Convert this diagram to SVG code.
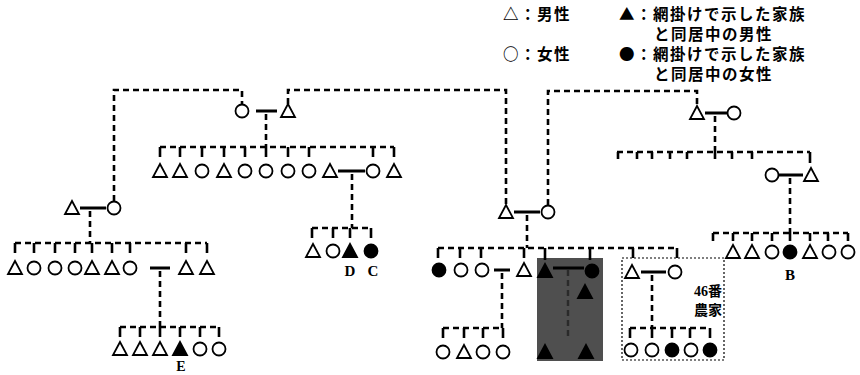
<svg xmlns="http://www.w3.org/2000/svg" width="860" height="375" viewBox="0 0 860 375">
<style>
.d{fill:none;stroke:#000;stroke-width:2.6;stroke-dasharray:6 4}
.t{fill:none;stroke:#000;stroke-width:2.6}
.c{fill:none;stroke:#000;stroke-width:3}
.o{fill:#fff;stroke:#000;stroke-width:1.8}
.k{fill:#000;stroke:#000;stroke-width:1.8}
.lg{font-family:"Noto Sans CJK JP","Noto Sans CJK SC",sans-serif;font-size:15.5px;font-weight:700;letter-spacing:1.5px}
.lb{font-family:"Liberation Serif",serif;font-size:15px;font-weight:700;text-anchor:middle}
.fm{font-family:"Liberation Serif","Noto Sans CJK JP",serif;font-size:14px;font-weight:700;text-anchor:end}
</style>
<defs>
<path id="tri" d="M0,-7L7,6H-7Z"/>
<circle id="cir" r="6.5"/>
</defs>
<rect width="860" height="375" fill="#fff"/>

<g id="legend" class="lg">
<text x="503" y="20">△：男性</text>
<text x="619" y="20">▲：網掛けで示した家族<tspan x="654" y="40">と同居中の男性</tspan></text>
<text x="503" y="60">○：女性</text>
<text x="619" y="60">●：網掛けで示した家族<tspan x="654" y="80">と同居中の女性</tspan></text>
</g>

<g id="household-box">
<rect id="shaded" x="537" y="258" width="66" height="103" fill="#4f4f4f"/>
<rect id="farm46" x="622" y="258" width="102" height="102" fill="none" stroke="#000" stroke-width="1.2" stroke-dasharray="2 2"/>
<text class="fm" x="722" y="296">46番</text>
<text class="fm" x="722" y="315">農家</text>
</g>

<g id="connectors">
<path class="d" d="M114,201V90H242V104"/>
<path class="d" d="M288,104V90H506V205"/>
<path class="d" d="M548,205V91H697V106"/>
<path class="d" d="M266,114V147M90,211V243M527,215V248M715,116V152M790,178V233M352,174V228M160,271V327M502,273V328M652,275V328"/>
<path class="d" d="M160,147H394M15,243H207M120,327H219M312,228H371M438,248H677M443,328H503M630,328H710M617,152H810M713,233H848"/>
<path class="t" d="M160,147v10M180,147v10M202,147v10M224,147v10M245,147v10M266,147v10M288,147v10M309,147v10M373,147v10M394,147v10"/>
<path class="t" d="M15,243v10M34,243v10M55,243v10M75,243v10M92,243v10M112,243v10M130,243v10M186,243v10M207,243v10"/>
<path class="t" d="M120,327v10M140,327v10M160,327v10M180,327v10M200,327v10M219,327v10"/>
<path class="t" d="M312,228v10M333,228v10M350,228v10M371,228v10"/>
<path class="t" d="M438,248v10M460,248v10M481,248v10M524,248v10M545,248v12M590,248v12M633,248v10M677,248v10"/>
<path class="t" d="M443,328v10M464,328v10M483,328v10M503,328v10"/>
<path class="t" d="M630,328v10M652,328v10M672,328v10M690,328v10M710,328v10"/>
<path class="t" d="M618,152v7M637,152v7M652,152v7M670,152v7M687,152v7M715,152v7M732,152v7M752,152v7M810,152v11"/>
<path class="t" d="M713,233v8M733,233v8M752,233v8M772,233v8M790,233v8M810,233v8M828,233v8M848,233v8"/>
<path class="c" d="M256,111H277M80,208H106M514,212H540M705,113H727M779,175H803M338,171H365M150,268H170M494,270H510M641,272H666M553,268H584"/>
<path d="M568,270V340" fill="none" stroke="#2a2a2a" stroke-width="2.4" stroke-dasharray="6 4"/>
</g>

<g id="gen1">
<g id="n-top-f"><use href="#cir" class="o" x="242" y="111"/></g>
<g id="n-top-m"><use href="#tri" class="o" x="288" y="111"/></g>
<g id="n-left-m"><use href="#tri" class="o" x="72" y="208"/></g>
<g id="n-left-f"><use href="#cir" class="o" x="114" y="208"/></g>
<g id="n-mid-m"><use href="#tri" class="o" x="506" y="212"/></g>
<g id="n-mid-f"><use href="#cir" class="o" x="548" y="212"/></g>
<g id="n-right-m"><use href="#tri" class="o" x="697" y="113"/></g>
<g id="n-right-f"><use href="#cir" class="o" x="734" y="113"/></g>
<g id="n-r2-f"><use href="#cir" class="o" x="772" y="175"/></g>
<g id="n-r2-m"><use href="#tri" class="o" x="811" y="175"/></g>
</g>

<g id="row-g1">
<g id="a1"><use href="#tri" class="o" x="160" y="171"/></g>
<g id="a2"><use href="#tri" class="o" x="180" y="171"/></g>
<g id="a3"><use href="#cir" class="o" x="202" y="171"/></g>
<g id="a4"><use href="#tri" class="o" x="224" y="171"/></g>
<g id="a5"><use href="#cir" class="o" x="245" y="171"/></g>
<g id="a6"><use href="#cir" class="o" x="266" y="171"/></g>
<g id="a7"><use href="#cir" class="o" x="288" y="171"/></g>
<g id="a8"><use href="#cir" class="o" x="309" y="171"/></g>
<g id="a9"><use href="#tri" class="o" x="330" y="171"/></g>
<g id="a10"><use href="#cir" class="o" x="373" y="171"/></g>
<g id="a11"><use href="#tri" class="o" x="394" y="171"/></g>
</g>

<g id="row-g2">
<g id="b1"><use href="#tri" class="o" x="15" y="268"/></g>
<g id="b2"><use href="#cir" class="o" x="34" y="268"/></g>
<g id="b3"><use href="#cir" class="o" x="55" y="268"/></g>
<g id="b4"><use href="#cir" class="o" x="75" y="268"/></g>
<g id="b5"><use href="#tri" class="o" x="92" y="268"/></g>
<g id="b6"><use href="#tri" class="o" x="112" y="268"/></g>
<g id="b7"><use href="#cir" class="o" x="130" y="268"/></g>
<g id="b8"><use href="#tri" class="o" x="186" y="268"/></g>
<g id="b9"><use href="#tri" class="o" x="207" y="268"/></g>
</g>

<g id="row-g3">
<g id="e1"><use href="#tri" class="o" x="120" y="349"/></g>
<g id="e2"><use href="#tri" class="o" x="140" y="349"/></g>
<g id="e3"><use href="#tri" class="o" x="160" y="349"/></g>
<g id="e4"><use href="#tri" class="k" x="180" y="349"/><text class="lb" x="181" y="371" style="font-size:14px">E</text></g>
<g id="e5"><use href="#cir" class="o" x="200" y="349"/></g>
<g id="e6"><use href="#cir" class="o" x="219" y="349"/></g>
</g>

<g id="row-g4">
<g id="d1"><use href="#tri" class="o" x="313" y="251"/></g>
<g id="d2"><use href="#cir" class="o" x="333" y="251"/></g>
<g id="d3"><use href="#tri" class="k" x="350" y="251"/><text class="lb" x="350" y="276">D</text></g>
<g id="d4"><use href="#cir" class="k" x="371" y="251"/><text class="lb" x="373" y="276">C</text></g>
</g>

<g id="row-g5">
<g id="m1"><use href="#cir" class="k" x="439" y="270"/></g>
<g id="m2"><use href="#cir" class="o" x="461" y="270"/></g>
<g id="m3"><use href="#cir" class="o" x="482" y="270"/></g>
<g id="m4"><use href="#tri" class="o" x="524" y="270"/></g>
<g id="m5"><use href="#tri" class="k" x="545" y="271"/></g>
<g id="m6"><use href="#cir" class="k" x="592" y="271"/></g>
<g id="m7"><use href="#tri" class="k" x="585" y="292"/></g>
<g id="m8"><use href="#tri" class="k" x="545" y="352"/></g>
<g id="m9"><use href="#tri" class="k" x="586" y="352"/></g>
<g id="m10"><use href="#tri" class="o" x="632" y="272"/></g>
<g id="m11"><use href="#cir" class="o" x="675" y="272"/></g>
</g>

<g id="row-g6">
<g id="p1"><use href="#cir" class="o" x="443" y="352"/></g>
<g id="p2"><use href="#tri" class="o" x="464" y="352"/></g>
<g id="p3"><use href="#cir" class="o" x="483" y="352"/></g>
<g id="p4"><use href="#cir" class="o" x="503" y="352"/></g>
</g>

<g id="row-g7">
<g id="q1"><use href="#cir" class="o" x="631" y="350"/></g>
<g id="q2"><use href="#cir" class="o" x="652" y="350"/></g>
<g id="q3"><use href="#cir" class="k" x="672" y="350"/></g>
<g id="q4"><use href="#cir" class="o" x="691" y="350"/></g>
<g id="q5"><use href="#cir" class="k" x="710" y="350"/></g>
</g>

<g id="row-g9">
<g id="r1"><use href="#tri" class="o" x="733" y="252"/></g>
<g id="r2"><use href="#tri" class="o" x="752" y="252"/></g>
<g id="r3"><use href="#cir" class="o" x="772" y="252"/></g>
<g id="r4"><use href="#cir" class="k" x="790" y="252"/><text class="lb" x="790" y="280">B</text></g>
<g id="r5"><use href="#tri" class="o" x="810" y="252"/></g>
<g id="r6"><use href="#cir" class="o" x="829" y="252"/></g>
<g id="r7"><use href="#cir" class="o" x="848" y="252"/></g>
</g>
</svg>
